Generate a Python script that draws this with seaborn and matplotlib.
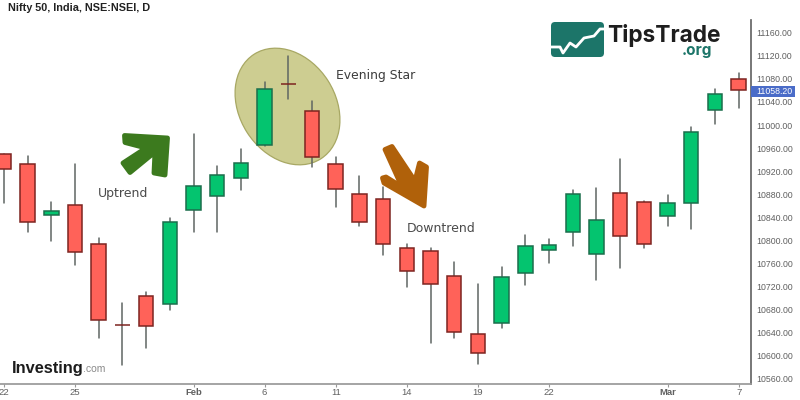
import matplotlib
matplotlib.use('Agg')
import numpy as np
import pandas as pd
import seaborn as sns
import matplotlib.pyplot as plt
from matplotlib.patches import Ellipse, Polygon, FancyBboxPatch, Rectangle
from matplotlib.transforms import Affine2D

days = list(range(-3, 29))
opens = [10950, 10932, 10844, 10861, 10794, 10653, 10703, 10690, 10852, 10877, 10909, 10965,
         11071, 11024, 10932, 10880, 10872, 10787, 10781, 10739, 10637, 10656, 10744, 10784,
         10814, 10776, 10882, 10866, 10843, 10865, 11026, 11079]
closes = [10924, 10832, 10851, 10780, 10662, 10653, 10652, 10832, 10894, 10913, 10934, 11063,
          11071, 10944, 10889, 10832, 10794, 10747, 10725, 10642, 10605, 10736, 10790, 10792,
          10881, 10835, 10808, 10793, 10865, 10988, 11053, 11060]
highs = [10950, 10946, 10867, 10932, 10805, 10691, 10711, 10838, 10984, 10929, 10958, 11074,
         11120, 11042, 10944, 10912, 10892, 10794, 10787, 10762, 10724, 10754, 10810, 10802,
         10888, 10890, 10941, 10868, 10879, 10997, 11063, 11091]
lows = [10865, 10814, 10799, 10758, 10631, 10584, 10614, 10679, 10814, 10814, 10887, 10964,
        11045, 10927, 10858, 10825, 10774, 10720, 10622, 10630, 10586, 10648, 10723, 10760,
        10790, 10731, 10752, 10787, 10825, 10819, 11001, 11029]

tick_days = [-3, 0, 5, 8, 11, 14, 17, 20, 25, 28]
tick_labels = ['22', '25', 'Feb', '6', '11', '14', '19', '22', 'Mar', '7']
price_ticks = list(range(10560, 11161, 40))
last_price = 11058.20

sns.set_theme(style='white')
plt.rcParams['font.family'] = ['DejaVu Sans']

df = pd.DataFrame({'day': days, 'open': opens, 'close': closes, 'high': highs, 'low': lows})
df['bottom'] = df[['open', 'close']].min(axis=1)
df['height'] = (df['close'] - df['open']).abs()
df['dir'] = np.where(df['close'] > df['open'], 'up', 'down')

fig = plt.figure(figsize=(8, 4), dpi=100)
ax = fig.add_axes([0, 1 - 383.5 / 400, 750.5 / 800, 363.5 / 400])

# wicks
wicks = df.melt(id_vars='day', value_vars=['high', 'low'], value_name='price')
sns.lineplot(data=wicks, x='day', y='price', units='day', estimator=None,
             color='#5f6663', lw=1.1, ax=ax, zorder=3)

# bodies, edge colour depends on direction
for d, fc, ec in [('up', '#04c46f', '#1b6e4c'), ('down', '#ff6259', '#7d2420')]:
    part = df[df['dir'] == d]
    sns.barplot(data=part, x='day', y='height', bottom=part['bottom'], native_scale=True,
                width=0.61, color=fc, saturation=1, edgecolor=ec, linewidth=1.1,
                errorbar=None, ax=ax, zorder=4)

ax.set_xlim(-3.165, 28.5)
ax.set_ylim(10552, 11182)
ax.set_xlabel('')
ax.set_ylabel('')

ax.yaxis.tick_right()
ax.set_yticks(price_ticks)
ax.set_yticklabels(['%.2f' % p for p in price_ticks], fontsize=6.3, color='#606060', family='Liberation Sans')
ax.set_xticks(tick_days)
ax.set_xticklabels(tick_labels, fontsize=6.8, color='#606060', family='Liberation Sans')
for t in ax.get_xticklabels():
    if t.get_text() in ('Feb', 'Mar'):
        t.set_fontweight('bold')
ax.tick_params(axis='y', right=True, length=3, width=0.8, color='#777777', pad=1)
ax.tick_params(axis='x', bottom=True, length=2.5, width=0.8, color='#999999', pad=0.5)
sns.despine(ax=ax, left=True, top=True, right=False)
ax.spines['right'].set_color('#666666')
ax.spines['bottom'].set_color('#999999')

# annotations are placed in image pixels, y down
px = Affine2D().scale(1, -1).translate(0, 400)

ax.add_patch(Ellipse((287.5, 106.5), 124, 96, angle=57.5, transform=px, fc='#cdcd91', ec='#a8a864',
                     lw=0.9, zorder=1, clip_on=False))

green_arrow = [(124.5, 135.5), (167.5, 138), (165, 175), (154, 173), (155, 152), (130, 172.5),
               (123, 163), (146, 148), (125, 142.5)]
ax.add_patch(Polygon(green_arrow, closed=True, transform=px, fc='#3c7a1e', ec='#3c7a1e', lw=3.5,
                     joinstyle='round', zorder=6, clip_on=False))
brown_arrow = [(385, 149.5), (392, 146.5), (415, 181), (419.5, 163), (426.5, 167), (424, 206),
               (384, 183), (382.5, 178), (386, 177), (402, 187)]
ax.add_patch(Polygon(brown_arrow, closed=True, transform=px, fc='#b0610a', ec='#b0610a', lw=3.5,
                     joinstyle='round', zorder=6, clip_on=False))

ax.text(8, 8, 'Nifty 50, India, NSE:NSEI, D', transform=px, fontsize=7.8, fontweight='bold',
        family='Liberation Sans', color='#222222', va='center', zorder=7)
ax.text(335.5, 75, 'Evening Star', transform=px, fontsize=8.9, color='#3c3c3c', va='center', zorder=7)
ax.text(98, 194, 'Uptrend', transform=px, fontsize=9, color='#4a4a4a', va='center', zorder=7)
ax.text(407, 228, 'Downtrend', transform=px, fontsize=9, color='#4a4a4a', va='center', zorder=7)

# price tag
ax.add_patch(Rectangle((750.5, 86), 44.5, 11, transform=px, fc='#4a6cc8', ec='none', zorder=6, clip_on=False))
ax.text(756, 91.5, '%.2f' % last_price, transform=px, fontsize=6.3, color='white',
        family='Liberation Sans', va='center', zorder=7, clip_on=False)

# Investing.com
ax.text(12, 368, 'Investing', transform=px, fontsize=11.8, fontweight='bold', family='Liberation Sans',
        color='#1c1c1c', va='center', zorder=7)
ax.text(82.5, 369.5, '.com', transform=px, fontsize=7.5, family='Liberation Sans', color='#8a8a8a',
        va='center', zorder=7)

# TipsTrade logo
ax.add_patch(FancyBboxPatch((553, 24), 49, 31, boxstyle='round,pad=2,rounding_size=4', transform=px,
                            fc='#1c7569', ec='none', zorder=6, clip_on=False))
logo_line = [(551, 47), (560, 47), (563, 53), (570, 43), (576, 47), (584, 38), (594, 36), (600, 29), (604, 29)]
ax.add_patch(Polygon(logo_line, closed=False, fill=False, transform=px, ec='white', lw=2,
                     joinstyle='round', zorder=7, clip_on=False))
ax.text(607.5, 42, 'TipsTrade', transform=px, fontsize=16.3, fontweight='bold', family='Inter',
        color='#1e1e1e', va='baseline', zorder=7, clip_on=False)
ax.text(682, 55, '.org', transform=px, fontsize=11, fontweight='bold', family='Inter',
        color='#1c7569', va='baseline', zorder=7, clip_on=False)

fig.savefig('out.png', dpi=100)
